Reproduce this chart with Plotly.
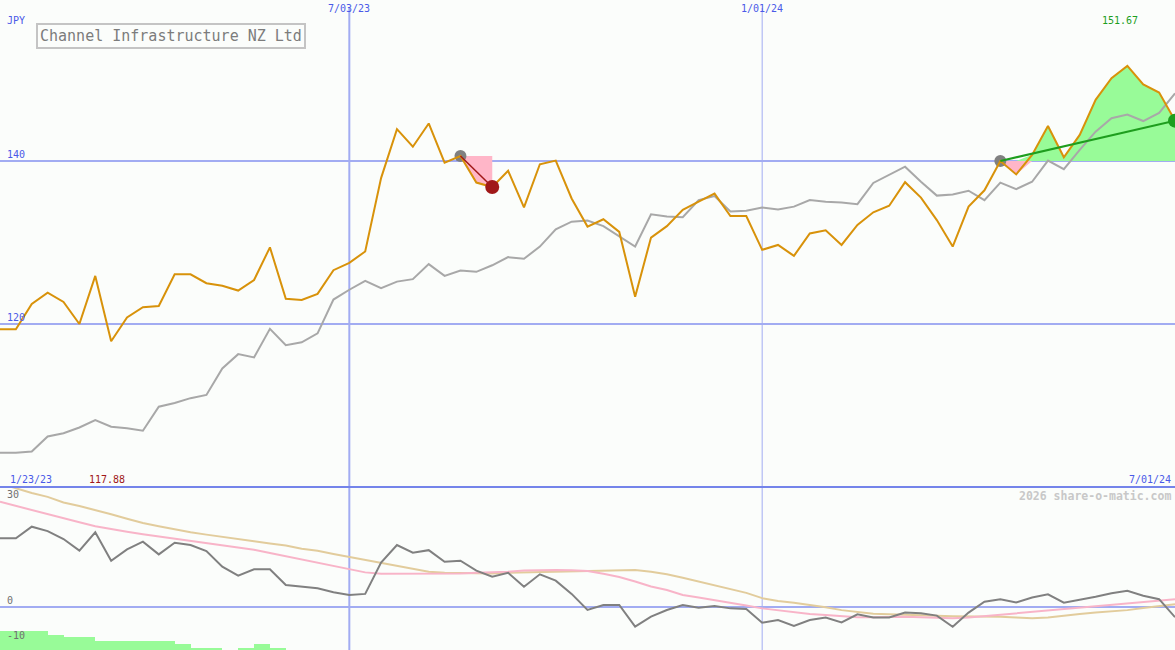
import pandas as pd
import plotly.graph_objects as go

# ---------------- data ----------------
dates = pd.date_range("2023-01-30", periods=75, freq="7D")

price = [119.35, 119.35, 122.45, 123.85, 122.7, 120.0, 125.9, 117.88, 120.8, 122.05,
         122.2, 126.1, 126.1, 125.0, 124.7, 124.1, 125.4, 129.4, 123.1, 122.95,
         123.7, 126.6, 127.5, 128.9, 137.9, 143.9, 141.75, 144.6, 139.8, 140.6,
         137.35, 136.8, 138.8, 134.3, 139.6, 140.05, 135.4, 131.95, 132.85, 131.3,
         123.35, 130.6, 132.0, 134.0, 135.0, 136.0, 133.25, 133.25, 129.1, 129.7,
         128.35, 131.1, 131.5, 129.7, 132.15, 133.7, 134.5, 137.4, 135.5, 132.75,
         129.5, 134.4, 136.4, 140.0, 138.35, 140.75, 144.3, 140.45, 143.2, 147.5,
         150.15, 151.67, 149.4, 148.4, 144.95]

compare = [104.2, 104.2, 104.35, 106.2, 106.6, 107.3, 108.2, 107.4, 107.2, 106.9,
           109.85, 110.3, 110.9, 111.3, 114.55, 116.3, 115.9, 119.4, 117.4, 117.75,
           118.85, 123.0, 124.2, 125.3, 124.4, 125.2, 125.5, 127.35, 125.9, 126.55,
           126.4, 127.2, 128.2, 128.0, 129.5, 131.6, 132.55, 132.7, 132.0, 130.8,
           129.5, 133.45, 133.2, 133.1, 135.2, 135.7, 133.8, 133.9, 134.3, 134.05,
           134.4, 135.2, 135.0, 134.9, 134.7, 137.3, 138.3, 139.3, 137.45, 135.75,
           135.9, 136.35, 135.2, 137.35, 136.55, 137.45, 140.05, 139.0, 141.35, 143.6,
           145.25, 145.7, 144.9, 145.9, 148.3]

osc = [19.45, 19.45, 22.75, 21.5, 19.25, 15.95, 21.15, 13.1, 16.3, 18.5,
       14.9, 18.2, 17.55, 15.85, 11.4, 8.9, 10.7, 10.7, 6.2, 5.75,
       5.3, 4.15, 3.4, 3.7, 12.6, 17.55, 15.4, 16.1, 12.8, 13.1,
       10.3, 8.6, 9.7, 5.75, 9.25, 7.45, 3.7, -0.85, 0.55, 0.55,
       -5.6, -2.75, -0.85, 0.55, -0.2, 0.3, -0.4, -0.55, -4.45, -3.7,
       -5.4, -3.7, -3.0, -4.4, -2.1, -3.0, -3.0, -1.6, -1.8, -2.45,
       -5.6, -1.6, 1.5, 2.15, 1.3, 2.7, 3.6, 1.2, 2.0, 2.9,
       3.9, 4.6, 3.2, 2.2, -2.9]

osc_fast = [29.8, 28.6, 27.6, 26.2, 25.2, 24.0, 22.9, 22.0, 21.3, 20.6,
            20.0, 19.4, 18.7, 18.2, 17.5, 17.0, 16.2, 15.3, 14.4, 13.5,
            12.6, 11.7, 10.7, 9.8, 9.4, 9.4, 9.4, 9.5, 9.5, 9.5,
            9.7, 9.8, 10.0, 10.3, 10.5, 10.5, 10.4, 10.2, 9.4, 8.5,
            7.2, 5.8, 4.8, 3.4, 2.7, 2.0, 1.3, 0.4, -0.4, -1.0,
            -1.5, -2.0, -2.3, -2.6, -2.9, -2.9, -2.8, -2.75, -2.9, -3.1,
            -3.2, -3.0, -2.6, -2.0, -1.6, -1.3, -0.9, -0.4, 0.0, 0.4,
            0.8, 1.2, 1.5, 1.9, 2.2]

osc_slow = [35.0, 33.6, 32.3, 31.2, 29.6, 28.6, 27.5, 26.3, 25.0, 23.8,
            22.9, 22.0, 21.2, 20.5, 19.8, 19.2, 18.6, 18.0, 17.4, 16.5,
            15.9, 15.0, 14.2, 13.3, 12.6, 11.8, 11.0, 10.0, 9.7, 9.6,
            9.5, 9.5, 9.7, 9.8, 9.9, 10.0, 10.0, 10.1, 10.4, 10.5,
            10.5, 10.0, 9.3, 8.3, 7.2, 6.1, 5.0, 4.0, 2.5, 1.7,
            1.2, 0.6, -0.1, -0.9, -1.4, -1.9, -2.1, -2.3, -2.45, -2.5,
            -2.6, -2.6, -2.7, -2.75, -3.0, -3.2, -3.0, -2.4, -2.0, -1.6,
            -1.3, -0.9, -0.3, 0.2, 0.75]

hist = [5.4, 5.4, 5.4, 4.25, 3.7, 3.7, 2.55, 2.55, 2.55, 2.55,
        2.55, 1.7, 0.57, 0.57, 0.0, 0.57, 1.7, 0.57]

trade_spans = [(29, 31), (63, 74)]   # (entry index, exit index)

price_ticks = [120, 140]
osc_ticks = [30, 0, -10]
date_marks = ["2023-07-03", "2024-01-01"]

# ---------------- styling ----------------
BG = "#fbfdfb"
BLUE = "#4a5ae8"
GRID = "#a2acf2"
ORANGE = "#d8920a"
FONT = "DejaVu Sans Mono"
W, H = 1175, 650
SPLIT = 163 / 650
Y1 = [100, 159.75]
Y2 = [-12.2, 34]

fig = go.Figure()

# trade fills (gain green / loss pink) between entry level and price
for a, b in trade_spans:
    xs = dates[a:b + 1]
    base = price[a]
    seg = price[a:b + 1]
    up = [max(v, base) for v in seg]
    dn = [min(v, base) for v in seg]
    fig.add_trace(go.Scatter(x=xs, y=[base] * len(xs), mode="lines",
                             line=dict(width=0), hoverinfo="skip", showlegend=False))
    fig.add_trace(go.Scatter(x=xs, y=up, mode="lines", fill="tonexty",
                             fillcolor="#98fb98", line=dict(width=0),
                             hoverinfo="skip", showlegend=False))
    fig.add_trace(go.Scatter(x=xs, y=[base] * len(xs), mode="lines",
                             line=dict(width=0), hoverinfo="skip", showlegend=False))
    fig.add_trace(go.Scatter(x=xs, y=dn, mode="lines", fill="tonexty",
                             fillcolor="#ffb6c8", line=dict(width=0),
                             hoverinfo="skip", showlegend=False))

# comparison line
fig.add_trace(go.Scatter(x=dates, y=compare, mode="lines",
                         line=dict(color="#a8a8a8", width=2), showlegend=False))

# entry markers (behind price)
fig.add_trace(go.Scatter(x=[dates[a] for a, b in trade_spans],
                         y=[price[a] for a, b in trade_spans], mode="markers",
                         marker=dict(color="#808080", size=12), showlegend=False))

# price line
fig.add_trace(go.Scatter(x=dates, y=price, mode="lines",
                         line=dict(color=ORANGE, width=2), showlegend=False))

# trade lines and exit markers
for (a, b), col in zip(trade_spans, ["#a01818", "#1e9e1e"]):
    fig.add_trace(go.Scatter(x=[dates[a], dates[b]], y=[price[a], price[b]],
                             mode="lines", line=dict(color=col, width=2 if col != "#a01818" else 1.5),
                             showlegend=False))
    fig.add_trace(go.Scatter(x=[dates[b]], y=[price[b]], mode="markers",
                             marker=dict(color=col, size=14), showlegend=False))

# lower panel
fig.add_trace(go.Bar(x=dates[:len(hist)], y=hist, base=Y2[0],
                     width=7 * 24 * 3600 * 1000, offset=0,
                     marker=dict(color="#98fb98", line=dict(width=0)),
                     xaxis="x2", yaxis="y2", showlegend=False))
fig.add_trace(go.Scatter(x=dates, y=osc_slow, mode="lines", xaxis="x2", yaxis="y2",
                         line=dict(color="#e2cc9c", width=2), showlegend=False))
fig.add_trace(go.Scatter(x=dates, y=osc_fast, mode="lines", xaxis="x2", yaxis="y2",
                         line=dict(color="#f8b4c8", width=2), showlegend=False))
fig.add_trace(go.Scatter(x=dates, y=osc, mode="lines", xaxis="x2", yaxis="y2",
                         line=dict(color="#808080", width=2), showlegend=False))

xrange = ["2023-01-30", "2024-07-01"]

shapes = []
for d, wdt in zip(date_marks, [2, 1]):
    shapes.append(dict(type="line", xref="x", yref="paper", x0=d, x1=d, y0=0, y1=1 - 8 / 650,
                       line=dict(color=GRID, width=wdt), layer="below"))
shapes.append(dict(type="line", xref="paper", yref="paper", x0=0, x1=1, y0=SPLIT, y1=SPLIT,
                   line=dict(color="#7484ea", width=2), layer="above"))


def py(y):
    return 1 - y / H


ann = []
ann.append(dict(text="JPY", x=5 / W, y=py(20), xref="paper", yref="paper",
                xanchor="left", yanchor="middle", showarrow=False,
                font=dict(family=FONT, size=10, color=BLUE)))
ann.append(dict(text="Channel Infrastructure NZ Ltd", x=170.5 / W, y=py(36.5),
                xref="paper", yref="paper", xanchor="center", yanchor="middle",
                showarrow=False, bordercolor="#c4c4c4", borderwidth=2, borderpad=2,
                font=dict(family=FONT, size=15, color="#7c7c7c")))
for d, lab in zip(date_marks, ["7/03/23", "1/01/24"]):
    ann.append(dict(text=lab, x=d, y=py(9), xref="x", yref="paper", xanchor="center",
                    yanchor="middle", showarrow=False,
                    font=dict(family=FONT, size=10, color=BLUE)))
ann.append(dict(text=f"{max(price):.2f}", x=1120 / W, y=py(21), xref="paper", yref="paper",
                xanchor="center", yanchor="middle", showarrow=False,
                font=dict(family=FONT, size=10, color="#1e9e1e")))
for t in price_ticks:
    ann.append(dict(text=str(t), x=5 / W, y=t, xref="paper", yref="y", xanchor="left",
                    yanchor="bottom", yshift=-1, showarrow=False,
                    font=dict(family=FONT, size=10, color=BLUE)))
ann.append(dict(text="1/23/23", x=8 / W, y=py(479), xref="paper", yref="paper",
                xanchor="left", yanchor="middle", showarrow=False,
                font=dict(family=FONT, size=10, color=BLUE)))
ann.append(dict(text=f"{min(price):.2f}", x=87 / W, y=py(479), xref="paper", yref="paper",
                xanchor="left", yanchor="middle", showarrow=False,
                font=dict(family=FONT, size=10, color="#a01818")))
ann.append(dict(text="7/01/24", x=1173 / W, y=py(479), xref="paper", yref="paper",
                xanchor="right", yanchor="middle", showarrow=False,
                font=dict(family=FONT, size=10, color=BLUE)))
ann.append(dict(text="<b>2026 share-o-matic.com</b>", x=1173 / W, y=py(496), xref="paper",
                yref="paper", xanchor="right", yanchor="middle", showarrow=False,
                font=dict(family=FONT, size=11.5, color="#c8c8c8")))
for t in osc_ticks:
    ann.append(dict(text=str(t), x=5 / W, y=t, xref="paper", yref="y2", xanchor="left",
                    yanchor="bottom", yshift=-1, showarrow=False,
                    font=dict(family=FONT, size=10, color="#707070")))

fig.update_layout(
    width=W, height=H, autosize=False,
    margin=dict(l=0, r=0, t=0, b=0),
    paper_bgcolor=BG, plot_bgcolor=BG,
    showlegend=False, hovermode=False,
    bargap=0,
    xaxis=dict(type="date", range=xrange, domain=[0, 1], anchor="y",
               showgrid=False, showticklabels=False, zeroline=False, ticks=""),
    xaxis2=dict(type="date", range=xrange, domain=[0, 1], anchor="y2", matches="x",
                showgrid=False, showticklabels=False, zeroline=False, ticks=""),
    yaxis=dict(range=Y1, domain=[SPLIT, 1], tickvals=price_ticks, showgrid=True,
               gridcolor=GRID, gridwidth=2, showticklabels=False, zeroline=False, ticks=""),
    yaxis2=dict(range=Y2, domain=[0, SPLIT], tickvals=[0], showgrid=True,
                gridcolor=GRID, gridwidth=2, showticklabels=False, zeroline=False, ticks=""),
    shapes=shapes,
    annotations=ann,
)

fig.write_html("out.html", config={"displayModeBar": False, "staticPlot": True},
               post_script="document.body.style.margin='0';document.body.style.background='%s';" % BG)
